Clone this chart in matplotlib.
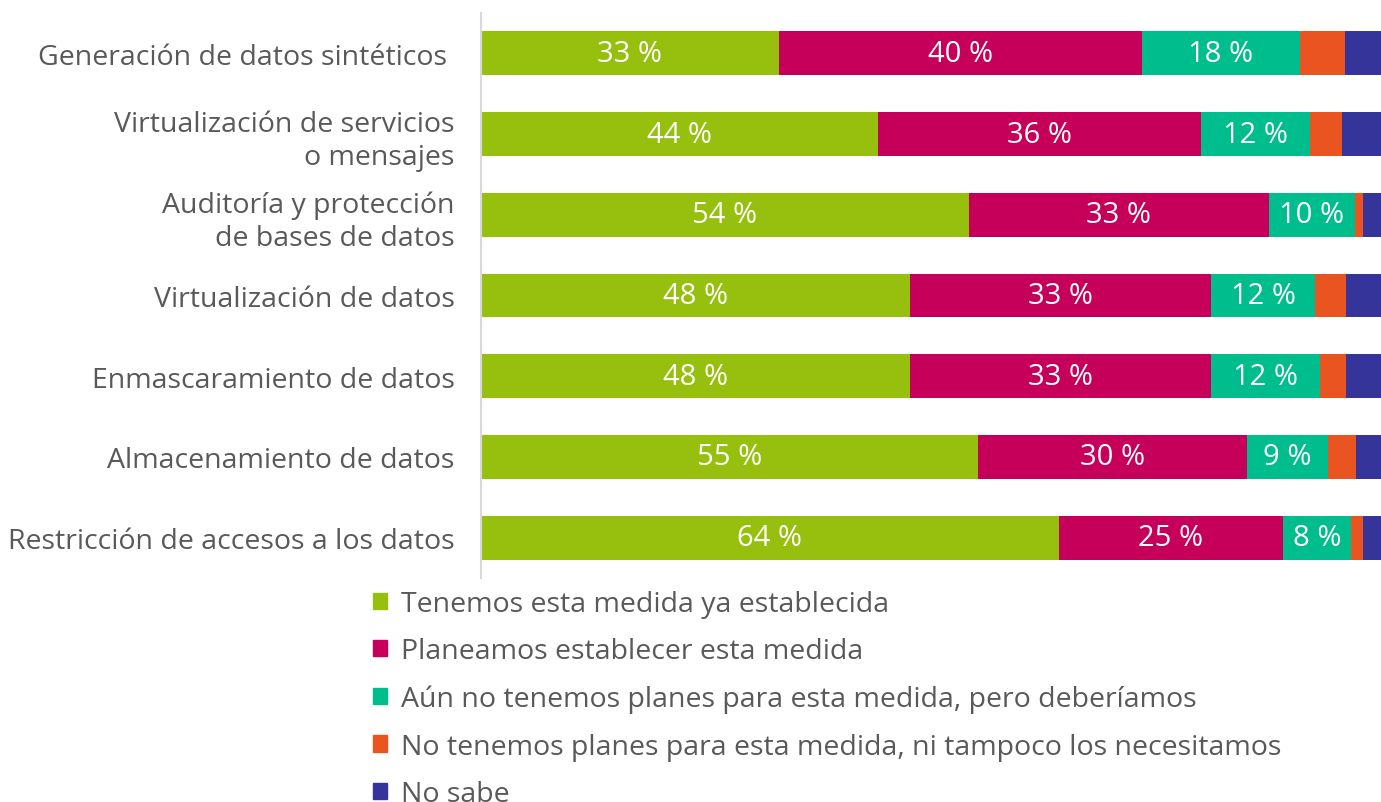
import matplotlib.pyplot as plt
import matplotlib.patches as mpatches
import numpy as np

plt.rcParams['font.family'] = ['Open Sans', 'DejaVu Sans']

categories = ['Generación de datos sintéticos ',
              'Virtualización de servicios\no mensajes',
              'Auditoría y protección\nde bases de datos',
              'Virtualización de datos',
              'Enmascaramiento de datos',
              'Almacenamiento de datos',
              'Restricción de accesos a los datos']

series_names = ['Tenemos esta medida ya establecida',
                'Planeamos establecer esta medida',
                'Aún no tenemos planes para esta medida, pero deberíamos',
                'No tenemos planes para esta medida, ni tampoco los necesitamos',
                'No sabe']

established = [33.1, 44.1, 54.2, 47.7, 47.7, 55.2, 64.2]
planned = [40.3, 35.9, 33.3, 33.4, 33.4, 29.9, 24.9]
should = [17.6, 12.1, 9.6, 11.6, 12.1, 9.0, 7.6]
not_needed = [5.0, 3.6, 0.9, 3.4, 2.9, 3.1, 1.3]
dont_know = [4.0, 4.3, 2.0, 3.9, 3.9, 2.8, 2.0]

labels_est = ['33 %', '44 %', '54 %', '48 %', '48 %', '55 %', '64 %']
labels_plan = ['40 %', '36 %', '33 %', '33 %', '33 %', '30 %', '25 %']
labels_should = ['18 %', '12 %', '10 %', '12 %', '12 %', '9 %', '8 %']

colors = ['#97bf0d', '#c6005a', '#00bd8e', '#e95420', '#34349a']

fig = plt.figure(figsize=(13.81, 8.03), dpi=100)
ax = fig.add_axes([481 / 1381, 1 - 579 / 803, 1 - 481 / 1381, (579 - 14) / 803])

y = np.arange(len(categories))
series = [established, planned, should, not_needed, dont_know]
text_labels = [labels_est, labels_plan, labels_should, None, None]
left = np.zeros(len(categories))
handles = []
for vals, col, name, tl in zip(series, colors, series_names, text_labels):
    vals = np.asarray(vals)
    ax.barh(y, vals, left=left, height=0.545, color=col, edgecolor='none')
    if tl is not None:
        for yi, l, v, t in zip(y, left, vals, tl):
            ax.text(l + v / 2, yi, t, ha='center', va='center', color='white', fontsize=21)
    left = left + vals
    handles.append(mpatches.Patch(color=col, label=name))

ax.set_xlim(0, 100)
ax.set_ylim(6.5, -0.5)
ax.set_yticks(y)
ax.set_yticklabels(categories, fontsize=20.5, color='#595959', linespacing=1.25)
ax.tick_params(axis='y', length=0, pad=19)
ax.set_xticks([])
for s in ['top', 'right', 'bottom']:
    ax.spines[s].set_visible(False)
ax.spines['left'].set_color('#d9d9d9')
ax.spines['left'].set_linewidth(1.5)

leg = fig.legend(handles=handles, loc='upper left', bbox_to_anchor=(373 / 1381, 1 - 591 / 803),
                 frameon=False, fontsize=20.5, handlelength=0.5, handleheight=0.5,
                 handletextpad=0.5, labelspacing=0.68, borderaxespad=0, borderpad=0)
for t in leg.get_texts():
    t.set_color('#595959')

fig.savefig('out.png', dpi=100)
